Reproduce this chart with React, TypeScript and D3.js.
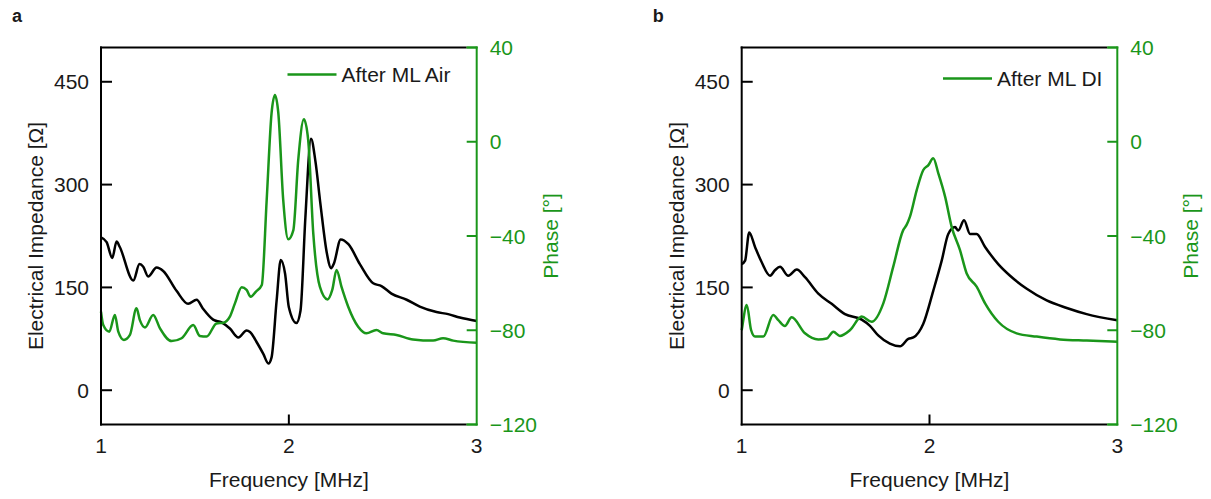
import React from "react";
import * as d3 from "d3";

// ---------- DATA ----------
const freqTicks = [1, 2, 3];
const impedanceTicks = [0, 150, 300, 450];
const phaseTicks = [40, 0, -40, -80, -120];

// Panel a: After ML Air
const airImpFreq = [1.0, 1.03, 1.06, 1.083, 1.1, 1.172, 1.205, 1.225, 1.251, 1.296, 1.331, 1.402, 1.464, 1.509, 1.543, 1.597, 1.642, 1.686, 1.731, 1.775, 1.793, 1.829, 1.864, 1.891, 1.908, 1.935, 1.957, 1.98, 2.0, 2.04, 2.062, 2.088, 2.118, 2.141, 2.168, 2.203, 2.225, 2.24, 2.276, 2.317, 2.378, 2.449, 2.493, 2.546, 2.627, 2.697, 2.786, 2.848, 2.91, 3.0];
const airImp = [223, 216, 193, 217, 209, 160, 184, 180, 166, 179, 174, 145, 126, 132, 119, 103, 99, 90, 77, 87, 85, 70, 53, 39, 48, 131, 190, 170, 121, 98, 116, 252, 367, 335, 272, 199, 178, 185, 220, 213, 184, 156, 152, 141, 132, 122, 114, 111, 106, 101];
const airPhaseFreq = [1.0, 1.012, 1.044, 1.074, 1.092, 1.122, 1.154, 1.189, 1.207, 1.234, 1.278, 1.314, 1.376, 1.429, 1.491, 1.526, 1.562, 1.615, 1.651, 1.686, 1.713, 1.749, 1.775, 1.797, 1.825, 1.856, 1.882, 1.908, 1.926, 1.944, 1.97, 1.997, 2.024, 2.05, 2.08, 2.103, 2.13, 2.165, 2.206, 2.231, 2.254, 2.28, 2.316, 2.369, 2.413, 2.466, 2.502, 2.573, 2.661, 2.768, 2.821, 2.875, 3.0];
const airPhase = [-72.1, -77.8, -80.6, -73.5, -80.6, -84.1, -82.0, -70.7, -75.7, -78.8, -73.5, -79.2, -84.6, -83.4, -77.8, -82.4, -82.7, -77.1, -76.8, -74.2, -68.6, -61.8, -62.9, -65.8, -63.6, -60.8, -24.7, 12.1, 19.8, 12.1, -24.7, -41.4, -37.5, -7.7, 9.5, 0.7, -38.9, -61.5, -66.9, -62.9, -54.4, -61.5, -70.0, -78.5, -81.3, -79.9, -81.3, -82.0, -83.9, -84.4, -83.4, -84.4, -85.3];

// Panel b: After ML DI
const diImpFreq = [1.0, 1.018, 1.04, 1.071, 1.106, 1.151, 1.177, 1.204, 1.248, 1.293, 1.337, 1.408, 1.479, 1.55, 1.639, 1.683, 1.727, 1.789, 1.843, 1.887, 1.914, 1.967, 2.02, 2.065, 2.1, 2.136, 2.153, 2.184, 2.216, 2.251, 2.296, 2.366, 2.429, 2.518, 2.624, 2.731, 2.837, 3.0];
const diImp = [184, 189, 230, 209, 187, 167, 175, 180, 167, 176, 165, 141, 126, 111, 103, 94, 80, 68, 64, 75, 77, 97, 145, 189, 228, 238, 233, 248, 228, 228, 209, 184, 167, 148, 131, 120, 111, 102];
const diPhaseFreq = [1.0, 1.003, 1.027, 1.05, 1.071, 1.115, 1.168, 1.195, 1.23, 1.266, 1.337, 1.408, 1.453, 1.488, 1.523, 1.577, 1.639, 1.692, 1.754, 1.807, 1.86, 1.878, 1.896, 1.932, 1.967, 1.994, 2.02, 2.047, 2.083, 2.118, 2.162, 2.198, 2.251, 2.296, 2.366, 2.464, 2.571, 2.695, 2.837, 3.0];
const diPhase = [-80.0, -78.5, -69.3, -79.9, -82.7, -82.7, -73.5, -75.7, -78.2, -74.5, -81.3, -83.9, -83.5, -80.6, -82.4, -79.9, -74.2, -76.4, -68.6, -53.0, -37.5, -35.3, -31.8, -20.5, -12.0, -9.9, -7.0, -13.4, -23.3, -36.1, -45.9, -55.9, -61.5, -68.6, -76.4, -81.3, -82.7, -83.9, -84.4, -84.9];

// ---------- STYLE ----------
const GREEN = "#1a961a";
const TEXT = "#1a1a1a";
const FONT = "'Liberation Sans', Arial, Helvetica, sans-serif";
const FS = 21;
const TOP = 47.5;
const BOTTOM = 424.5;

type PanelProps = {
  x0: number;
  x1: number;
  letter: string;
  impFreq: number[];
  imp: number[];
  phFreq: number[];
  ph: number[];
  legend: string;
  legendX: number;
  legendY: number;
};

function Panel(p: PanelProps) {
  const x = d3.scaleLinear().domain([1, 3]).range([p.x0, p.x1]);
  const yZ = d3.scaleLinear().domain([-50, 500]).range([BOTTOM, TOP]);
  const yP = d3.scaleLinear().domain([-120, 40]).range([BOTTOM, TOP]);
  const lineZ = d3
    .line<number>()
    .x((_, i) => x(p.impFreq[i]))
    .y((d) => yZ(d))
    .curve(d3.curveMonotoneX);
  const lineP = d3
    .line<number>()
    .x((_, i) => x(p.phFreq[i]))
    .y((d) => yP(d))
    .curve(d3.curveMonotoneX);
  const tickLen = 11;
  const blackEnd = p.x1 - 10;
  const mid = (p.x0 + p.x1) / 2;
  return (
    <g>
      <text x={p.x0 - 89} y={22} fontFamily={FONT} fontWeight="bold" fontSize={18} fill={TEXT}>
        {p.letter}
      </text>
      {/* curves */}
      <path d={lineZ(p.imp) || ""} fill="none" stroke="#000" strokeWidth={2.5} strokeLinejoin="round" />
      <path d={lineP(p.ph) || ""} fill="none" stroke={GREEN} strokeWidth={2.5} strokeLinejoin="round" />
      {/* frame */}
      <line x1={p.x0} x2={p.x0} y1={TOP - 1} y2={BOTTOM + 1} stroke="#000" strokeWidth={2} />
      <line x1={p.x0 - 1} x2={blackEnd} y1={TOP} y2={TOP} stroke="#000" strokeWidth={2} />
      <line x1={p.x0 - 1} x2={blackEnd} y1={BOTTOM} y2={BOTTOM} stroke="#000" strokeWidth={2} />
      <line x1={blackEnd} x2={p.x1 + 1} y1={TOP} y2={TOP} stroke={GREEN} strokeWidth={2} />
      <line x1={blackEnd} x2={p.x1 + 1} y1={BOTTOM} y2={BOTTOM} stroke={GREEN} strokeWidth={2} />
      <line x1={p.x1} x2={p.x1} y1={TOP - 1} y2={BOTTOM + 1} stroke={GREEN} strokeWidth={2} />
      {/* left ticks */}
      {impedanceTicks.map((t) => (
        <g key={"z" + t}>
          <line x1={p.x0} x2={p.x0 + tickLen} y1={yZ(t)} y2={yZ(t)} stroke="#000" strokeWidth={2} />
          <text x={p.x0 - 12} y={yZ(t)} dy="0.36em" textAnchor="end" fontFamily={FONT} fontSize={FS} fill={TEXT}>
            {t}
          </text>
        </g>
      ))}
      {/* right ticks */}
      {phaseTicks.map((t) => (
        <g key={"p" + t}>
          <line x1={p.x1 - 10} x2={p.x1} y1={yP(t)} y2={yP(t)} stroke={GREEN} strokeWidth={2} />
          <text x={p.x1 + 13} y={yP(t)} dy="0.36em" textAnchor="start" fontFamily={FONT} fontSize={FS} fill={GREEN}>
            {t < 0 ? "\u2212" + Math.abs(t) : String(t)}
          </text>
        </g>
      ))}
      {/* bottom ticks */}
      {freqTicks.map((t) => (
        <g key={"f" + t}>
          {t !== 1 && t !== 3 && (
            <line x1={x(t)} x2={x(t)} y1={BOTTOM} y2={BOTTOM - 10} stroke="#000" strokeWidth={2} />
          )}
          <text x={x(t)} y={453} textAnchor="middle" fontFamily={FONT} fontSize={FS} fill={TEXT}>
            {t}
          </text>
        </g>
      ))}
      {/* axis titles */}
      <text x={mid} y={487} textAnchor="middle" fontFamily={FONT} fontSize={FS} fill={TEXT}>
        Frequency [MHz]
      </text>
      <text
        transform={`translate(${p.x0 - 58},236) rotate(-90)`}
        textAnchor="middle"
        fontFamily={FONT}
        fontSize={FS}
        fill={TEXT}
      >
        Electrical Impedance [Ω]
      </text>
      <text
        transform={`translate(${p.x1 + 81},236) rotate(-90)`}
        textAnchor="middle"
        fontFamily={FONT}
        fontSize={FS}
        fill={GREEN}
      >
        Phase [°]
      </text>
      {/* legend */}
      <line x1={p.legendX} x2={p.legendX + 49} y1={p.legendY} y2={p.legendY} stroke={GREEN} strokeWidth={2.5} />
      <text x={p.legendX + 54} y={p.legendY + 7.5} fontFamily={FONT} fontSize={FS} fill={TEXT}>
        {p.legend}
      </text>
    </g>
  );
}

export default function App() {
  return (
    <svg
      width={1211}
      height={499}
      viewBox="0 0 1211 499"
      style={{ position: "absolute", left: 0, top: 0, background: "#fff" }}
    >
      <rect x={0} y={0} width={1211} height={499} fill="#fff" />
      <Panel
        x0={101}
        x1={476.7}
        letter="a"
        impFreq={airImpFreq}
        imp={airImp}
        phFreq={airPhaseFreq}
        ph={airPhase}
        legend="After ML Air"
        legendX={287.5}
        legendY={74.5}
      />
      <Panel
        x0={741.7}
        x1={1117.3}
        letter="b"
        impFreq={diImpFreq}
        imp={diImp}
        phFreq={diPhaseFreq}
        ph={diPhase}
        legend="After ML DI"
        legendX={943}
        legendY={78.5}
      />
    </svg>
  );
}
